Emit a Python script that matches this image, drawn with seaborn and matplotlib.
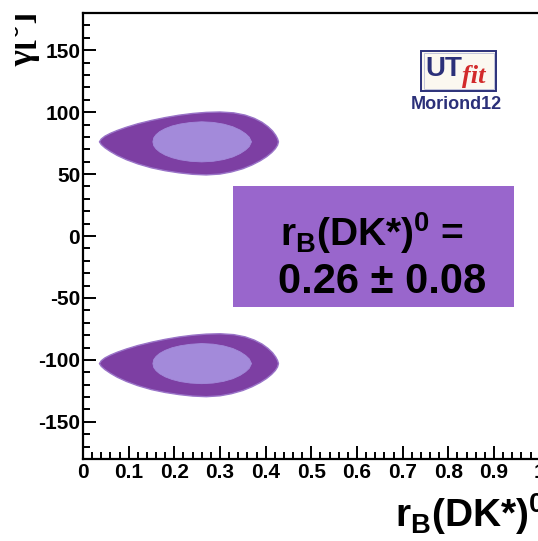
import numpy as np
import matplotlib
matplotlib.use("Agg")
import matplotlib.pyplot as plt
from matplotlib.patches import Rectangle
from matplotlib.transforms import Bbox
from matplotlib.ticker import MultipleLocator
import seaborn as sns

# --- data: credibility regions in the (r_B, gamma) plane -------------------
# outer (95%) region around the gamma ~ +76 deg solution:
# top edge from the left tip to the right end, then bottom edge back
outer_rb = [0.036, 0.040, 0.048, 0.060, 0.075, 0.095, 0.120, 0.150, 0.180,
            0.210, 0.240, 0.270, 0.300, 0.330, 0.355, 0.375, 0.392, 0.405,
            0.415, 0.422, 0.426, 0.428,
            0.426, 0.421, 0.413, 0.402, 0.388, 0.370, 0.350, 0.325, 0.300,
            0.270, 0.240, 0.210, 0.180, 0.150, 0.120, 0.095, 0.075, 0.060,
            0.048, 0.040]
outer_gamma = [76.0, 78.3, 80.6, 82.9, 85.2, 87.8, 90.6, 93.3, 95.6,
               97.5, 98.9, 99.8, 100.1, 99.4, 97.6, 95.0, 91.8, 88.3,
               84.8, 81.3, 78.5, 76.0,
               73.3, 70.4, 67.3, 64.0, 60.7, 57.3, 54.3, 51.7, 50.0,
               49.3, 49.8, 51.0, 52.7, 55.0, 58.2, 61.6, 65.0, 68.2,
               71.2, 73.8]

# inner (68%) region
inner_rb = [0.153, 0.155, 0.160, 0.168, 0.180, 0.195, 0.213, 0.235, 0.260,
            0.285, 0.308, 0.328, 0.344, 0.356, 0.364, 0.369,
            0.364, 0.356, 0.344, 0.328, 0.308, 0.285, 0.260, 0.235, 0.213,
            0.195, 0.180, 0.168, 0.160, 0.155]
inner_gamma = [76.0, 79.3, 81.8, 84.3, 86.7, 88.8, 90.4, 91.6, 92.2,
               91.7, 90.3, 88.2, 85.5, 82.6, 79.8, 76.0,
               72.2, 69.4, 66.5, 63.8, 61.7, 60.3, 59.8, 60.3, 61.5,
               63.2, 65.3, 67.8, 70.3, 72.8]

# second solution (gamma - 180 ambiguity)
ambiguity_shift = 179.0

rb_value = "0.26"
rb_error = "0.08"

x_ticks = [0, 0.1, 0.2, 0.3, 0.4, 0.5, 0.6, 0.7, 0.8, 0.9, 1]
x_ticklabels = ["0", "0.1", "0.2", "0.3", "0.4", "0.5", "0.6", "0.7",
                "0.8", "0.9", "1"]
y_ticks = [-150, -100, -50, 0, 50, 100, 150]

# --- style ----------------------------------------------------------------
sns.set_style("white")
plt.rcParams["font.family"] = ["Liberation Sans", "DejaVu Sans"]
plt.rcParams["font.weight"] = "bold"
plt.rcParams["text.color"] = "black"
plt.rcParams["axes.labelcolor"] = "black"
plt.rcParams["xtick.color"] = "black"
plt.rcParams["ytick.color"] = "black"
plt.rcParams["axes.unicode_minus"] = False
plt.rcParams["mathtext.fontset"] = "custom"
plt.rcParams["mathtext.rm"] = "Liberation Sans:bold"
plt.rcParams["mathtext.bf"] = "Liberation Sans:bold"
plt.rcParams["mathtext.it"] = "Liberation Sans:bold"

DARK = "#7D3FA3"
LIGHT = "#A38ADA"
EDGE = "#9A74C8"
BOX = "#9966CC"
NAVY = "#2B3079"

W, H = 538, 541
fig = plt.figure(figsize=(W / 100, H / 100), dpi=100)
fig.patch.set_facecolor("white")


def fx(px):
    return px / W


def fy(py):
    return 1 - py / H


ax = fig.add_axes([fx(83), fy(459), (539.7 - 83) / W, (459 - 13) / H])
ax.set_xlim(0, 1)
ax.set_ylim(-180, 180)

for shift in (0.0, -ambiguity_shift):
    g_out = np.asarray(outer_gamma) + shift
    g_in = np.asarray(inner_gamma) + shift
    ax.fill(outer_rb, g_out, facecolor=DARK, edgecolor=EDGE, linewidth=1.0,
            joinstyle="round", zorder=2)
    ax.fill(inner_rb, g_in, facecolor=LIGHT, edgecolor=LIGHT, linewidth=0.6,
            joinstyle="round", zorder=3)

# axes frame and ticks
for side in ("left", "bottom", "top"):
    ax.spines[side].set_visible(True)
    ax.spines[side].set_linewidth(1.6)
    ax.spines[side].set_color("black")
ax.spines["right"].set_visible(False)

ax.set_xticks(x_ticks)
ax.set_xticklabels(x_ticklabels)
ax.set_yticks(y_ticks)
ax.xaxis.set_minor_locator(MultipleLocator(0.02))
ax.yaxis.set_minor_locator(MultipleLocator(10))
ax.tick_params(which="both", direction="in", color="black",
               labelcolor="black", bottom=True, left=True, top=False,
               right=False, width=1.4)
ax.tick_params(which="major", length=9.5)
ax.tick_params(which="minor", length=5)
ax.tick_params(axis="x", which="major", labelsize=15, pad=3)
ax.tick_params(axis="y", which="major", labelsize=15, pad=2)
for lab in ax.get_xticklabels() + ax.get_yticklabels():
    lab.set_fontweight("bold")

# axis titles
fig.text(fx(545), fy(527), r"r$_\mathrm{B}$(DK*)$^\mathrm{0}$",
         ha="right", va="baseline", fontsize=28, fontweight="bold",
         color="black")
ylab = fig.text(fx(24), fy(12), "γ[°]", rotation=90, ha="center", va="top",
                fontsize=26, fontweight="bold", color="black",
                family=["Liberation Serif", "DejaVu Serif"])
ylab.set_clip_box(Bbox.from_extents(15, 0, W, H))
ylab.set_clip_on(True)

# result box
fig.patches.append(Rectangle((fx(233), fy(307)), (514 - 233) / W,
                             (307 - 186) / H, transform=fig.transFigure,
                             facecolor=BOX, edgecolor="none", zorder=5))
fig.text(fx(280), fy(246), r"r$_\mathrm{B}$(DK*)$^\mathrm{0}$ =",
         ha="left", va="baseline", fontsize=28, fontweight="bold",
         color="black", zorder=6)
fig.text(fx(278), fy(293), f"{rb_value} ± {rb_error}",
         ha="left", va="baseline", fontsize=30, fontweight="bold",
         color="black", zorder=6)

# UTfit logo
fig.patches.append(Rectangle((fx(421), fy(91)), (496 - 421) / W,
                             (91 - 51) / H, transform=fig.transFigure,
                             facecolor="#FBF8F0", edgecolor=NAVY,
                             linewidth=1.4, zorder=5))
fig.patches.append(Rectangle((fx(423.5), fy(88.5)), (493.5 - 423.5) / W,
                             (88.5 - 53.5) / H, transform=fig.transFigure,
                             facecolor="none", edgecolor="#B8BCD8",
                             linewidth=0.6, zorder=5))
fig.text(fx(425), fy(76), "UT", ha="left", va="baseline", fontsize=20,
         fontweight="bold", color=NAVY, zorder=6)
fig.text(fx(462), fy(83), "fit", ha="left", va="baseline", fontsize=19,
         fontweight="bold", style="italic", color="#D22A2A", zorder=6,
         family=["Liberation Serif", "DejaVu Serif"])
fig.text(fx(456), fy(104.5), "Moriond12", ha="center", va="center",
         fontsize=13, fontweight="bold", color=NAVY, zorder=6)

fig.savefig("out.png", dpi=100)
